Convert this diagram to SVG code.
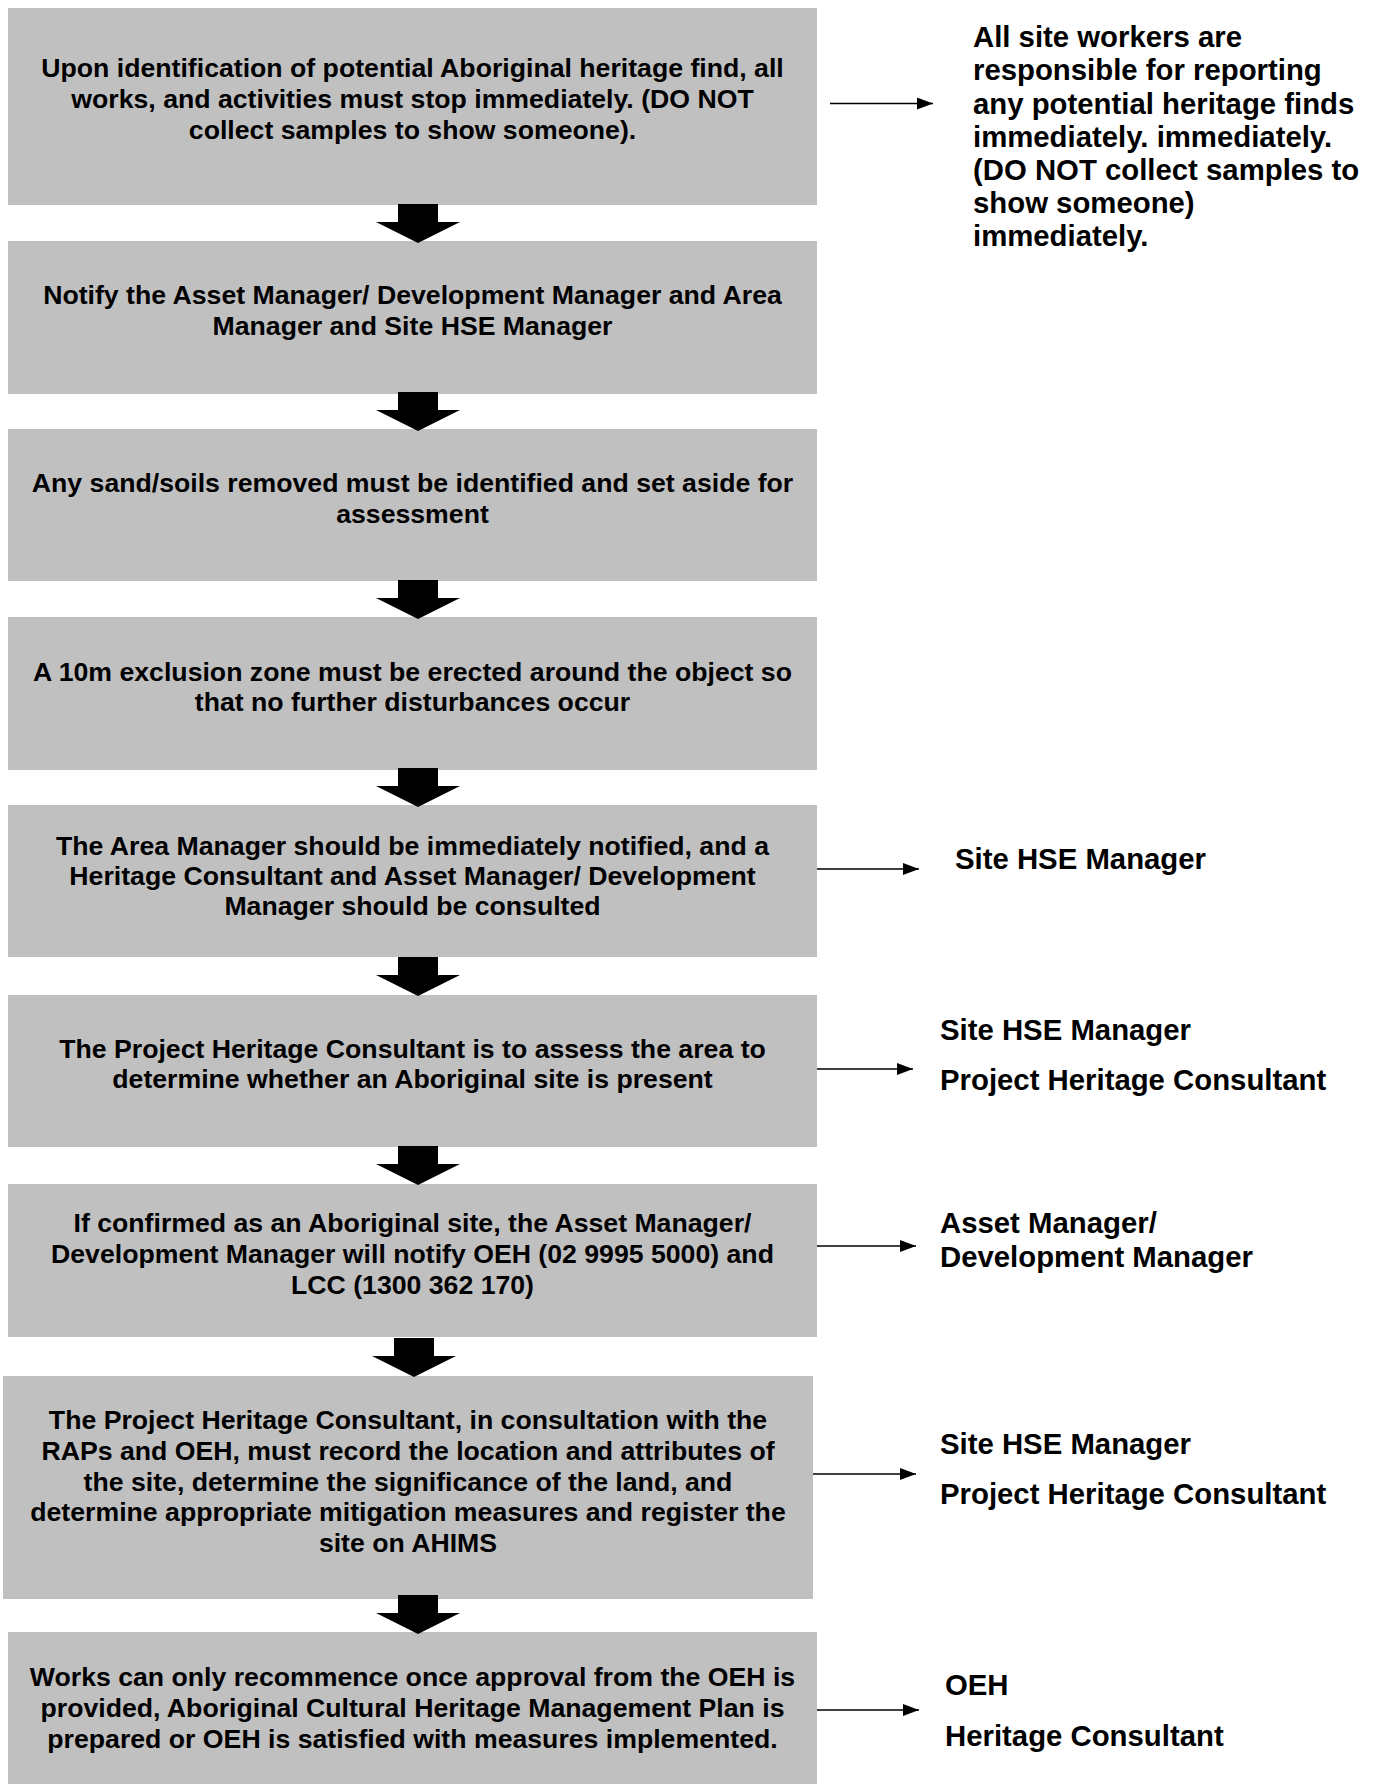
<svg xmlns="http://www.w3.org/2000/svg" width="1373" height="1784" viewBox="0 0 1373 1784">
  <defs>
    <marker id="tip" viewBox="0 0 16 12" refX="16" refY="6" markerWidth="16" markerHeight="12" markerUnits="userSpaceOnUse" orient="auto">
      <path d="M0,0 L16,6 L0,12 Z" fill="#000"/>
    </marker>
    <!-- down block arrow, centred on x=0, shaft top at y=0 -->
    <path id="down" d="M-20,0 H20 V18 H42 L0,39 L-42,18 H-20 Z" fill="#000"/>
  </defs>
  <style>
    .box { fill: #c0c0c0; }
    .t { font-family: "Liberation Sans", Arimo, Arial, sans-serif; font-weight: bold; font-size: 26.67px; fill: #000; text-anchor: middle; }
    .s { font-family: "Liberation Sans", Arimo, Arial, sans-serif; font-weight: bold; font-size: 29.33px; fill: #000; }
    .link { stroke: #000; stroke-width: 1.5; fill: none; marker-end: url(#tip); }
  </style>
  <rect width="1373" height="1784" fill="#fff"/>

  <g id="step1">
    <rect class="box" x="8" y="8" width="809" height="197"/>
    <text class="t" x="412.5" y="77">Upon identification of potential Aboriginal heritage find, all</text>
    <text class="t" x="412.5" y="108">works, and activities must stop immediately. (DO NOT</text>
    <text class="t" x="412.5" y="139">collect samples to show someone).</text>
  </g>
  <g id="step2">
    <rect class="box" x="8" y="241" width="809" height="153"/>
    <text class="t" x="412.5" y="304">Notify the Asset Manager/ Development Manager and Area</text>
    <text class="t" x="412.5" y="335">Manager and Site HSE Manager</text>
  </g>
  <g id="step3">
    <rect class="box" x="8" y="429" width="809" height="152"/>
    <text class="t" x="412.5" y="492">Any sand/soils removed must be identified and set aside for</text>
    <text class="t" x="412.5" y="523">assessment</text>
  </g>
  <g id="step4">
    <rect class="box" x="8" y="617" width="809" height="153"/>
    <text class="t" x="412.5" y="681">A 10m exclusion zone must be erected around the object so</text>
    <text class="t" x="412.5" y="711">that no further disturbances occur</text>
  </g>
  <g id="step5">
    <rect class="box" x="8" y="805" width="809" height="152"/>
    <text class="t" x="412.5" y="855">The Area Manager should be immediately notified, and a</text>
    <text class="t" x="412.5" y="885">Heritage Consultant and Asset Manager/ Development</text>
    <text class="t" x="412.5" y="915">Manager should be consulted</text>
  </g>
  <g id="step6">
    <rect class="box" x="8" y="995" width="809" height="152"/>
    <text class="t" x="412.5" y="1058">The Project Heritage Consultant is to assess the area to</text>
    <text class="t" x="412.5" y="1088">determine whether an Aboriginal site is present</text>
  </g>
  <g id="step7">
    <rect class="box" x="8" y="1184" width="809" height="153"/>
    <text class="t" x="412.5" y="1232">If confirmed as an Aboriginal site, the Asset Manager/</text>
    <text class="t" x="412.5" y="1263">Development Manager will notify OEH (02 9995 5000) and</text>
    <text class="t" x="412.5" y="1294">LCC (1300 362 170)</text>
  </g>
  <g id="step8">
    <rect class="box" x="3" y="1376" width="810" height="223"/>
    <text class="t" x="408" y="1429">The Project Heritage Consultant, in consultation with the</text>
    <text class="t" x="408" y="1460">RAPs and OEH, must record the location and attributes of</text>
    <text class="t" x="408" y="1491">the site, determine the significance of the land, and</text>
    <text class="t" x="408" y="1521">determine appropriate mitigation measures and register the</text>
    <text class="t" x="408" y="1552">site on AHIMS</text>
  </g>
  <g id="step9">
    <rect class="box" x="8" y="1632" width="809" height="152"/>
    <text class="t" x="412.5" y="1686">Works can only recommence once approval from the OEH is</text>
    <text class="t" x="412.5" y="1717">provided, Aboriginal Cultural Heritage Management Plan is</text>
    <text class="t" x="412.5" y="1748">prepared or OEH is satisfied with measures implemented.</text>
  </g>

  <g id="note1">
    <text class="s" x="973" y="47">All site workers are</text>
    <text class="s" x="973" y="80">responsible for reporting</text>
    <text class="s" x="973" y="114">any potential heritage finds</text>
    <text class="s" x="973" y="147">immediately. immediately.</text>
    <text class="s" x="973" y="180">(DO NOT collect samples to</text>
    <text class="s" x="973" y="213">show someone)</text>
    <text class="s" x="973" y="246">immediately.</text>
  </g>
  <g id="note5">
    <text class="s" x="955" y="869">Site HSE Manager</text>
  </g>
  <g id="note6">
    <text class="s" x="940" y="1040">Site HSE Manager</text>
    <text class="s" x="940" y="1090">Project Heritage Consultant</text>
  </g>
  <g id="note7">
    <text class="s" x="940" y="1233">Asset Manager/</text>
    <text class="s" x="940" y="1267">Development Manager</text>
  </g>
  <g id="note8">
    <text class="s" x="940" y="1454">Site HSE Manager</text>
    <text class="s" x="940" y="1504">Project Heritage Consultant</text>
  </g>
  <g id="note9">
    <text class="s" x="945" y="1695">OEH</text>
    <text class="s" x="945" y="1746">Heritage Consultant</text>
  </g>

  <g id="connectors">
    <use href="#down" x="418" y="204"/>
    <use href="#down" x="418" y="392"/>
    <use href="#down" x="418" y="580"/>
    <use href="#down" x="418" y="768"/>
    <use href="#down" x="418" y="957"/>
    <use href="#down" x="418" y="1146"/>
    <use href="#down" x="414" y="1338"/>
    <use href="#down" x="418" y="1595"/>
    <path class="link" d="M830,103.5 H933"/>
    <path class="link" d="M817,869 H919"/>
    <path class="link" d="M817,1069 H913"/>
    <path class="link" d="M817,1246 H916"/>
    <path class="link" d="M813,1474 H916"/>
    <path class="link" d="M817,1710 H919"/>
  </g>
</svg>
